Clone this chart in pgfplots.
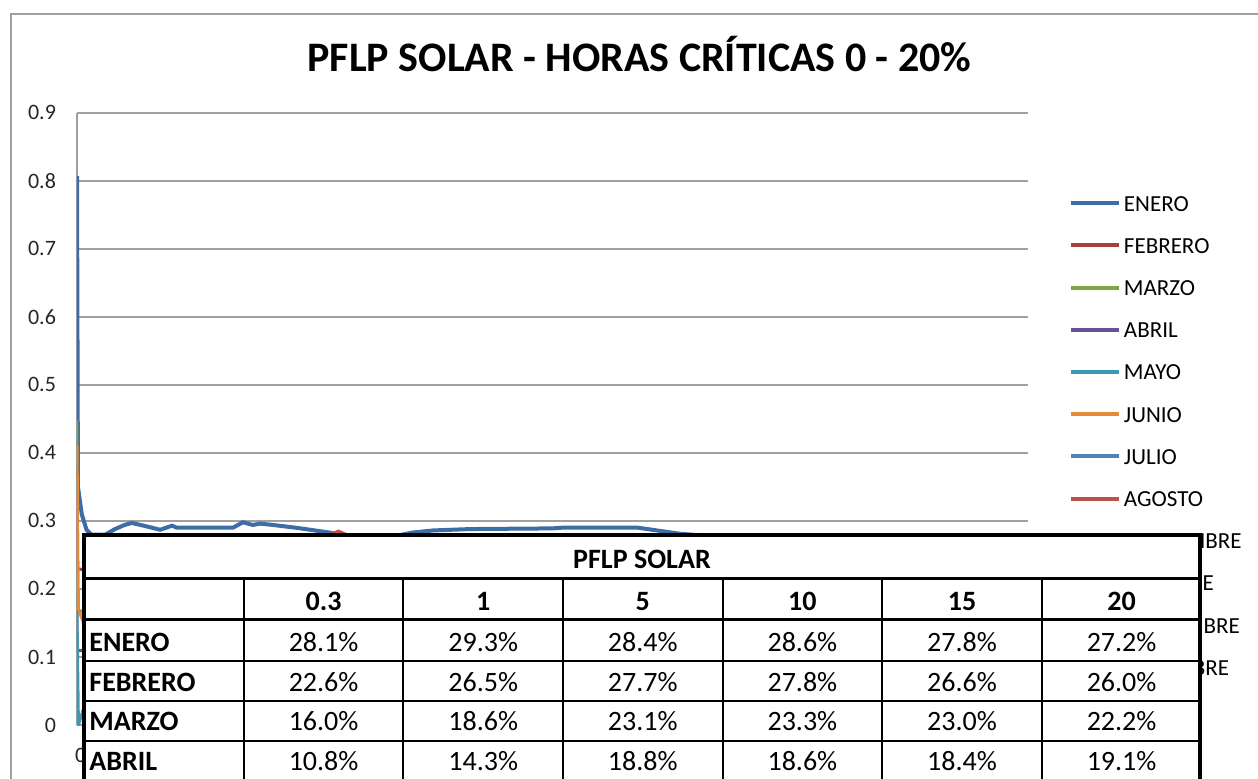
\documentclass[border=0pt]{standalone}
\usepackage{fontspec}
\setmainfont{Carlito}
\usepackage{pgfplots}
\pgfplotsset{compat=1.18}

\definecolor{gridgray}{HTML}{A0A0A0}
\definecolor{cEne}{HTML}{3D6CA6}
\definecolor{cFeb}{HTML}{A5403D}
\definecolor{cMar}{HTML}{82A24A}
\definecolor{cAbr}{HTML}{6A5196}
\definecolor{cMay}{HTML}{3A9BB0}
\definecolor{cJun}{HTML}{E58A35}
\definecolor{cJul}{HTML}{4F81BD}
\definecolor{cAgo}{HTML}{C0504D}
\definecolor{cSep}{HTML}{9BBB59}
\definecolor{cOct}{HTML}{8064A2}
\definecolor{cNov}{HTML}{4BACC6}
\definecolor{cDic}{HTML}{F79646}

\newcommand{\tabfont}{\fontsize{14}{16}\selectfont}

\begin{document}
\begin{tikzpicture}
\path[use as bounding box, clip] (0,0) rectangle (629pt,389pt);
% chart frame
\draw[gridgray, line width=1pt] (5.5pt,-5pt) -- (5.5pt,382pt) -- (640pt,382pt);
\node[anchor=base, font=\fontsize{21}{25}\selectfont\bfseries] at (319.75pt,353.2pt)
  {PFLP SOLAR - HORAS CRÍTICAS 0 - 20\%};

\begin{axis}[
  at={(38.5pt,26.5pt)}, anchor=south west,
  scale only axis, width=475.3pt, height=306.15pt,
  xmin=0, xmax=20, ymin=0, ymax=0.9,
  axis x line*=bottom, axis y line*=left,
  axis line style={gridgray, line width=0.8pt},
  major tick length=0pt,
  ymajorgrids, grid style={gridgray, line width=0.8pt},
  ytick={0,0.1,0.2,0.3,0.4,0.5,0.6,0.7,0.8,0.9},
  yticklabels={0,0.1,0.2,0.3,0.4,0.5,0.6,0.7,0.8,0.9},
  yticklabel style={font=\fontsize{11}{13}\selectfont, text=black!85, xshift=-7pt},
  xtick={0}, xticklabels={0},
  xticklabel style={font=\fontsize{11}{13}\selectfont, text=black!85, xshift=1.8pt, yshift=-8pt},
  every axis plot/.append style={line width=1.5pt},
  legend cell align=left,
  legend image code/.code={\draw[#1, line width=2pt] (0pt,0pt) -- (24pt,0pt);},
  legend style={at={(rel axis cs:1.0431,0.866)}, anchor=north west,
    draw=none, fill=none, inner sep=0pt, row sep=13.1pt,
    font=\fontsize{11.5}{13}\selectfont,
    nodes={inner sep=0pt, text height=8pt, text depth=0pt},
    /tikz/column 1/.style={column sep=1.5pt}},
]
\addplot[cEne, line width=2pt] coordinates {
  (0,0.807) (0.02,0.35) (0.1,0.31) (0.2,0.287) (0.3,0.280) (0.6,0.280)
  (0.8,0.288) (1.0,0.294) (1.15,0.297) (1.4,0.293) (1.75,0.287) (2.0,0.293)
  (2.1,0.290) (3.28,0.290) (3.49,0.298) (3.7,0.294) (3.85,0.296) (4.13,0.294)
  (4.6,0.290) (5.0,0.286) (5.3,0.283) (5.8,0.276) (6.5,0.275) (7.07,0.283)
  (7.5,0.286) (8.27,0.288) (10.0,0.289) (10.2,0.290) (11.8,0.290) (12.3,0.285)
  (12.7,0.281) (13.5,0.277) (15,0.278) (17.5,0.275) (20,0.272)
};
\addlegendentry{ENERO}
\addplot[cFeb] coordinates {
  (0,0.38) (0,0.23) (0.3,0.226) (1,0.265) (5,0.277) (10,0.278) (15,0.266) (20,0.260)
};
\addlegendentry{FEBRERO}
\addplot[cMar] coordinates {
  (0,0.448) (0,0.17) (0.3,0.160) (1,0.186) (5,0.231) (10,0.233) (15,0.230) (20,0.222)
};
\addlegendentry{MARZO}
\addplot[cAbr] coordinates {
  (0,0.30) (0,0.11) (0.3,0.108) (1,0.143) (5,0.188) (10,0.186) (15,0.184) (20,0.191)
};
\addlegendentry{ABRIL}
\addplot[cMay] coordinates {
  (0,0.165) (0.03,0.0) (0.3,0.06) (1,0.10) (5,0.15) (10,0.16) (15,0.165) (20,0.17)
};
\addlegendentry{MAYO}
\addplot[cJun] coordinates {
  (0,0.41) (0.03,0.17) (0.3,0.12) (1,0.15) (5,0.17) (10,0.18) (15,0.185) (20,0.19)
};
\addlegendentry{JUNIO}
\addplot[cJul] coordinates {
  (0.12,0.15) (0.3,0.13) (1,0.15) (5,0.18) (10,0.19) (15,0.19) (20,0.20)
};
\addlegendentry{JULIO}
\addplot[cAgo] coordinates {
  (0.12,0.20) (0.3,0.18) (1,0.20) (5,0.27) (5.5,0.285) (6,0.27) (10,0.25) (15,0.24) (20,0.24)
};
\addlegendentry{AGOSTO}
\addplot[cSep] coordinates {
  (0.12,0.22) (0.3,0.20) (1,0.21) (5,0.24) (10,0.25) (15,0.25) (20,0.25)
};
\addlegendentry{SEPTIEMBRE}
\addplot[cOct] coordinates {
  (0.12,0.24) (0.3,0.22) (1,0.23) (5,0.25) (10,0.26) (15,0.26) (20,0.25)
};
\addlegendentry{OCTUBRE}
\addplot[cNov] coordinates {
  (0.12,0.25) (0.3,0.24) (1,0.25) (5,0.26) (10,0.26) (15,0.26) (20,0.25)
};
\addlegendentry{NOVIEMBRE}
\addplot[cDic] coordinates {
  (0.12,0.26) (0.3,0.25) (1,0.26) (5,0.27) (10,0.27) (15,0.265) (20,0.26)
};
\addlegendentry{DICIEMBRE}
\end{axis}

% summary table laid over the chart
\begin{scope}[x=0.5pt, y=-0.5pt, shift={(0pt,389pt)}]
\fill[white] (83.7,535.3) rectangle (1200,800);
\foreach \yy in {660.8,700.8,740.5}
  \draw[line width=1pt] (83.7,\yy) -- (1200,\yy);
\foreach \xx in {243.8,403,563,722.5,882,1041.5}
  \draw[line width=1pt] (\xx,578.3) -- (\xx,800);
\draw[line width=1.6pt] (83.7,578.3) -- (1200,578.3);
\draw[line width=1.6pt] (83.7,619.3) -- (1200,619.3);
\draw[line width=2pt] (83.7,800) -- (83.7,535.3) -- (1200,535.3) -- (1200,800);

\node[anchor=base, font=\tabfont\bfseries] at (642,568) {PFLP SOLAR};
\foreach \lab [count=\i] in {0.3,1,5,10,15,20}
  \node[anchor=base, font=\tabfont\bfseries] at (164+159.6*\i,610) {\lab};
\foreach \row/\yb in {ENERO/651.5,FEBRERO/691,MARZO/730.5,ABRIL/770.5}
  \node[anchor=base west, font=\tabfont\bfseries, inner sep=0pt] at (89,\yb) {\row};
\foreach \v [count=\i] in {28.1\%,29.3\%,28.4\%,28.6\%,27.8\%,27.2\%}
  \node[anchor=base, font=\tabfont] at (164+159.6*\i,651.5) {\v};
\foreach \v [count=\i] in {22.6\%,26.5\%,27.7\%,27.8\%,26.6\%,26.0\%}
  \node[anchor=base, font=\tabfont] at (164+159.6*\i,691) {\v};
\foreach \v [count=\i] in {16.0\%,18.6\%,23.1\%,23.3\%,23.0\%,22.2\%}
  \node[anchor=base, font=\tabfont] at (164+159.6*\i,730.5) {\v};
\foreach \v [count=\i] in {10.8\%,14.3\%,18.8\%,18.6\%,18.4\%,19.1\%}
  \node[anchor=base, font=\tabfont] at (164+159.6*\i,770.5) {\v};
\end{scope}
\end{tikzpicture}
\end{document}
